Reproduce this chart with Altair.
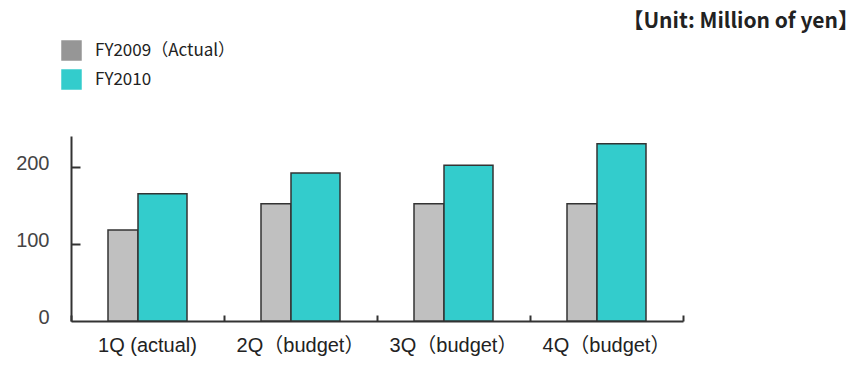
import altair as alt
import pandas as pd

# Quarterly figures (million yen)
quarters = ["1Q (actual)", "2Q（budget）", "3Q（budget）", "4Q（budget）"]
series_names = ["FY2009（Actual）", "FY2010"]
fy2009 = [118, 152, 152, 152]
fy2010 = [165, 192, 202, 230]

rows = []
for q, a, b in zip(quarters, fy2009, fy2010):
    rows.append({"quarter": q, "series": series_names[0], "value": a})
    rows.append({"quarter": q, "series": series_names[1], "value": b})
df = pd.DataFrame(rows)

x_scale = alt.Scale(paddingInner=0, paddingOuter=0)
y_scale = alt.Scale(domain=[0, 240], nice=False)

# Main axes: domain lines and labels
x_main = alt.X(
    "quarter:N",
    sort=quarters,
    scale=x_scale,
    axis=alt.Axis(
        title=None,
        orient="bottom",
        labelAngle=0,
        labelFont="Liberation Sans, Noto Sans CJK JP",
        labelFontSize=20,
        labelColor="#222222",
        labelPadding=14,
        ticks=False,
        domainColor="#333333",
        domainWidth=2,
    ),
)
y_main = alt.Y(
    "value:Q",
    scale=y_scale,
    axis=alt.Axis(
        title=None,
        orient="left",
        values=[0, 100, 200],
        grid=False,
        labelFont="Liberation Sans",
        labelFontSize=20,
        labelColor="#444444",
        labelPadding=22,
        labelOffset=-3.5,
        ticks=False,
        domainColor="#333333",
        domainWidth=2,
    ),
)

# Secondary axes: inward-pointing tick marks only
x_ticks = alt.X(
    "quarter:N",
    sort=quarters,
    scale=x_scale,
    axis=alt.Axis(
        title=None,
        orient="bottom",
        offset=-6,
        labels=False,
        domain=False,
        grid=False,
        tickBand="extent",
        tickSize=6,
        tickColor="#333333",
        tickWidth=2,
    ),
)
y_ticks = alt.Y(
    "value:Q",
    scale=y_scale,
    axis=alt.Axis(
        title=None,
        orient="left",
        offset=-9,
        values=[100, 200],
        grid=False,
        labels=False,
        domain=False,
        tickSize=9,
        tickColor="#333333",
        tickWidth=2,
    ),
)

base = alt.Chart(df)

bars_2009 = base.transform_filter(
    alt.datum.series == series_names[0]
).mark_bar(
    width=30, xOffset=-24.5, fill="#c0c0c0", stroke="#333333", strokeWidth=1.5
).encode(x=x_main, y=y_main)

bars_2010 = base.transform_filter(
    alt.datum.series == series_names[1]
).mark_bar(
    width=49, xOffset=15, stroke="#333333", strokeWidth=1.5
).encode(
    x=x_ticks,
    y=y_ticks,
    color=alt.Color(
        "series:N",
        scale=alt.Scale(domain=series_names, range=["#969696", "#33cccc"]),
        legend=alt.Legend(
            title=None,
            orient="none",
            legendX=-10,
            legendY=-96,
            symbolType="square",
            symbolSize=420,
            symbolStrokeWidth=0,
            symbolOpacity=1,
            labelFont="Noto Sans CJK JP",
            labelFontSize=17,
            labelColor="#222222",
            labelOffset=13,
            rowPadding=8,
        ),
    ),
)

chart = alt.layer(bars_2009, bars_2010).resolve_axis(
    x="independent", y="independent"
).properties(
    width=612,
    height=185,
    background="white",
    padding={"left": 71, "top": 136, "right": 175, "bottom": 44},
    autosize=alt.AutoSizeParams(type="none"),
    title=alt.TitleParams(
        text="【Unit: Million of yen】",
        anchor="end",
        frame="group",
        dx=176,
        dy=17,
        offset=8,
        baseline="alphabetic",
        font="Liberation Sans Narrow, Noto Sans CJK JP",
        fontSize=21,
        fontWeight="bold",
        color="#222222",
    ),
).configure_view(stroke=None, strokeWidth=0)

chart.save("out.html", embed_options={"renderer": "svg", "actions": False})
